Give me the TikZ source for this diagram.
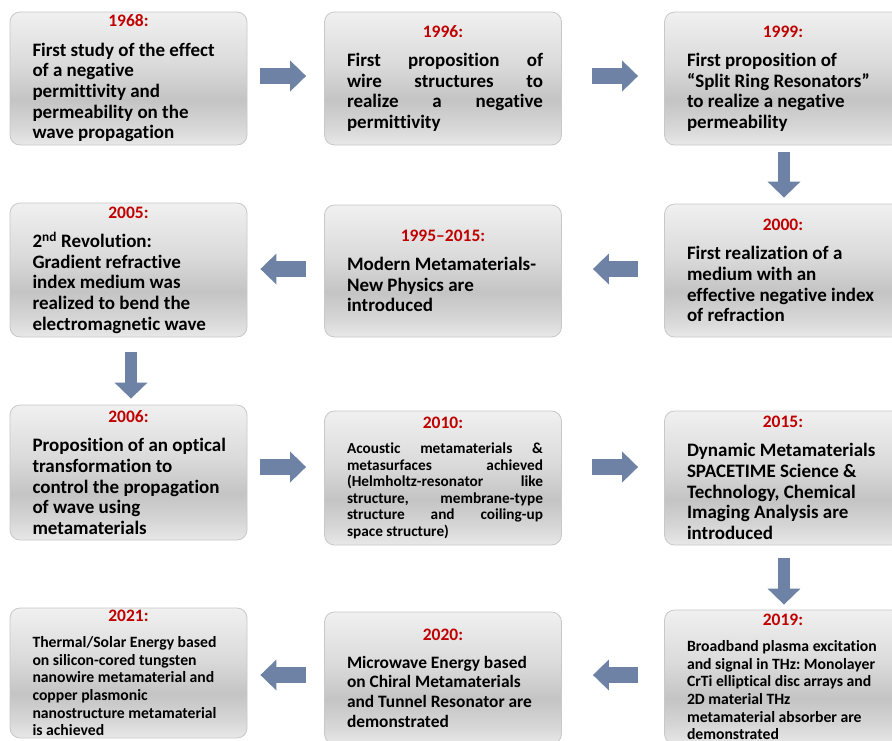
\documentclass[tikz,border=0pt]{standalone}
\usepackage{fontspec}
\setmainfont{Carlito}[Ligatures={TeX,NoCommon}]
\usetikzlibrary{arrows.meta}
\definecolor{yearred}{HTML}{C00000}
\definecolor{arrowblue}{HTML}{6E82A6}
\definecolor{boxedge}{HTML}{C8C8C8}
\definecolor{shadetop}{HTML}{F0F0F0}
\definecolor{shademid}{HTML}{DADADA}
\definecolor{shadelow}{HTML}{C4C4C4}
\definecolor{shadefoot}{HTML}{D6D6D6}
\definecolor{shadebottom}{HTML}{E8E8E8}
\pgfdeclareverticalshading{boxshade}{100bp}{color(0bp)=(shadebottom); color(25bp)=(shadebottom);
  color(32bp)=(shadefoot); color(42bp)=(shadelow); color(55bp)=(shademid);
  color(75bp)=(shadetop); color(100bp)=(shadetop)}
\frenchspacing
\hyphenpenalty=10000 \exhyphenpenalty=10000 \tolerance=10000 \hbadness=10000
% red year centred over the box, then the body (ragged or justified)
\newcommand{\yearhead}[1]{{\centering\color{yearred}\fontsize{17.5pt}{20pt}\selectfont #1\par}\vspace{8.5pt}}
\newcommand{\ragevt}[2]{\begin{minipage}{200pt}\yearhead{#1}\raggedright\leftskip=4pt\relax #2\end{minipage}}
\newcommand{\justevt}[2]{\begin{minipage}{200pt}\yearhead{#1}\leftskip=4pt\relax #2\end{minipage}}

\begin{document}
\begin{tikzpicture}[
    x=1pt, y=-1pt,
    font=\bfseries,
    evtbox/.style={rectangle, rounded corners=10pt, draw=boxedge, line width=0.8pt,
                   shade, shading=boxshade, minimum width=237pt,
                   inner xsep=0pt, inner ysep=0pt,
                   font=\bfseries\fontsize{19pt}{20.7pt}\selectfont},
    smallbox/.style={evtbox, font=\bfseries\fontsize{15.7pt}{17.6pt}\selectfont},
    flowarrow/.style={-{Triangle[length=16pt, width=30pt]}, line width=16pt, draw=arrowblue},
    downarrow/.style={-{Triangle[length=16pt, width=32pt]}, line width=12pt, draw=arrowblue}
  ]
    % Page frame — the right column runs past the edge, so clip to it
    \useasboundingbox (0,0) rectangle (892,740);
    \clip (0,0) rectangle (892,740);
    \fill[white] (0,0) rectangle (892,740);

    % Levels the block arrows run along
    \coordinate (lvl1) at (0, 76);
    \coordinate (lvl2) at (0, 269);
    \coordinate (lvl3) at (0, 467);
    \coordinate (lvl4) at (0, 675);
    \coordinate (colA) at (131, 0);
    \coordinate (colC) at (784, 0);

    % Row 1 — left to right
    \node[evtbox, minimum height=133pt] (y1968) at (128.5, 78.5)
      {\ragevt{1968:}{First study of the effect\\of a negative\\permittivity and\\permeability on the\\wave propagation}};
    \node[evtbox, minimum height=133pt] (y1996) at (443, 78.5)
      {\justevt{1996:}{First proposition of\linebreak wire structures to\linebreak realize a negative\linebreak permittivity}};
    \node[evtbox, minimum height=133pt] (y1999) at (783, 78.5)
      {\ragevt{1999:}{First proposition of\\“Split Ring Resonators”\\to realize a negative\\permeability}};

    % Row 2 — right to left
    \node[evtbox, minimum height=133pt] (y2000) at (783, 270.5)
      {\ragevt{2000:}{First realization of a\\medium with an\\effective negative index\\of refraction}};
    \node[evtbox, minimum height=132pt] (y9515) at (443, 271)
      {\ragevt{1995--2015:}{Modern Metamaterials-\\New Physics are\\introduced}};
    \node[evtbox, minimum height=134pt] (y2005) at (128.5, 270)
      {\ragevt{2005:}{2\textsuperscript{nd} Revolution:\\Gradient refractive\\index medium was\\realized to bend the\\electromagnetic wave}};

    % Row 3 — left to right
    \node[evtbox, minimum height=135pt] (y2006) at (128.5, 472.5)
      {\ragevt{2006:}{Proposition of an optical\\transformation to\\control the propagation\\of wave using\\metamaterials}};
    \node[evtbox, minimum height=134pt,
          font=\bfseries\fontsize{15.3pt}{16.5pt}\selectfont] (y2010) at (443, 478)
      {\justevt{2010:}{Acoustic metamaterials \&\linebreak metasurfaces achieved\linebreak (Helmholtz-resonator like\linebreak structure, membrane-type\linebreak structure and coiling-up\linebreak space structure)}};
    \node[evtbox, minimum height=134pt] (y2015) at (783, 478)
      {\ragevt{2015:}{Dynamic Metamaterials\\SPACETIME Science \&\\Technology, Chemical\\Imaging Analysis are\\introduced}};

    % Row 4 — right to left
    \node[smallbox, minimum height=134pt] (y2019) at (783, 677)
      {\ragevt{2019:}{Broadband plasma excitation\\and signal in THz: Monolayer\\CrTi elliptical disc arrays and\\2D material THz\\metamaterial absorber are\\demonstrated}};
    \node[evtbox, minimum height=132pt,
          font=\bfseries\fontsize{17.4pt}{19.6pt}\selectfont] (y2020) at (443, 678)
      {\ragevt{2020:}{Microwave Energy based\\on Chiral Metamaterials\\and Tunnel Resonator are\\demonstrated}};
    \node[smallbox, minimum height=130pt] (y2021) at (128.5, 673)
      {\ragevt{2021:}{Thermal/Solar Energy based\\on silicon-cored tungsten\\nanowire metamaterial and\\copper plasmonic\\nanostructure metamaterial\\is achieved}};

    % Block arrows — the snake through the timeline
    \draw[flowarrow, shorten <=13pt, shorten >=18pt] (y1968.east |- lvl1) -- (y1996.west |- lvl1);
    \draw[flowarrow, shorten <=30pt, shorten >=26pt] (y1996.east |- lvl1) -- (y1999.west |- lvl1);
    \draw[downarrow, shorten <=7pt, shorten >=6pt] (y1999.south -| colC) -- (y2000.north -| colC);
    \draw[flowarrow, shorten <=26pt, shorten >=31pt] (y2000.west |- lvl2) -- (y9515.east |- lvl2);
    \draw[flowarrow, shorten <=18pt, shorten >=13pt] (y9515.west |- lvl2) -- (y2005.east |- lvl2);
    \draw[downarrow, shorten <=15pt, shorten >=6pt] (y2005.south -| colA) -- (y2006.north -| colA);
    \draw[flowarrow, shorten <=13pt, shorten >=18pt] (y2006.east |- lvl3) -- (y2010.west |- lvl3);
    \draw[flowarrow, shorten <=30pt, shorten >=26pt] (y2010.east |- lvl3) -- (y2015.west |- lvl3);
    \draw[downarrow, shorten <=13pt, shorten >=5pt] (y2015.south -| colC) -- (y2019.north -| colC);
    \draw[flowarrow, shorten <=26pt, shorten >=31pt] (y2019.west |- lvl4) -- (y2020.east |- lvl4);
    \draw[flowarrow, shorten <=18pt, shorten >=13pt] (y2020.west |- lvl4) -- (y2021.east |- lvl4);
  \end{tikzpicture}
\end{document}
